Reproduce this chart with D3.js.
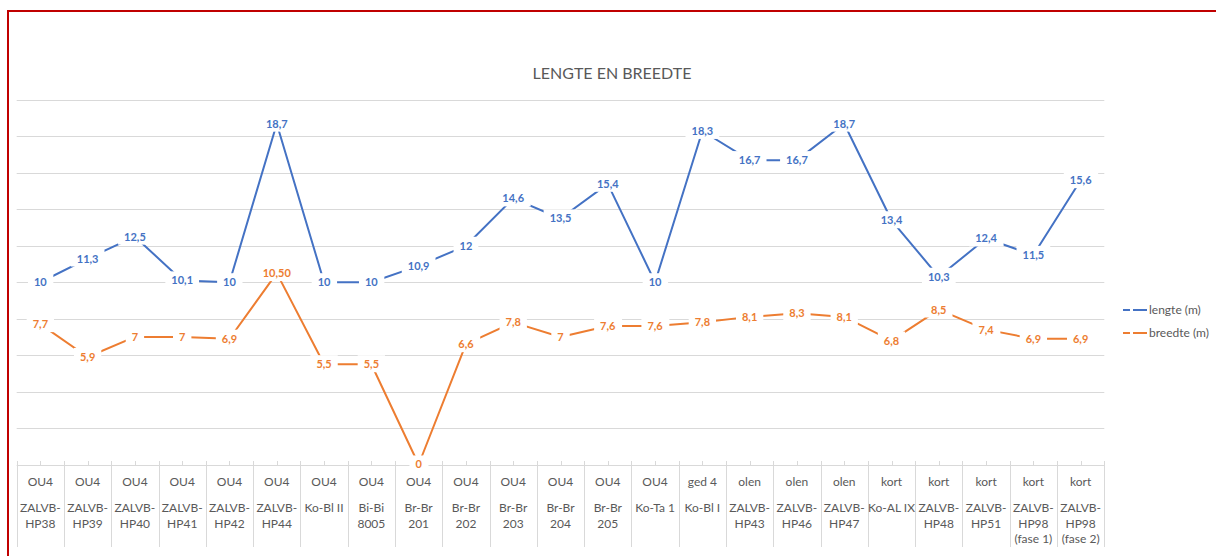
<!DOCTYPE html>
<html>
<head>
<meta charset="utf-8">
<script src="https://cdn.jsdelivr.net/npm/d3@7"></script>
<style>
  html, body { margin: 0; padding: 0; background: #fff; }
  svg { display: block; font-family: Lato, "Liberation Sans", sans-serif; }
</style>
</head>
<body>
<svg id="chart" width="1216" height="556"></svg>
<script>
// Group label (upper row) per category
const groups = ["OU4","OU4","OU4","OU4","OU4","OU4","OU4","OU4","OU4","OU4","OU4","OU4","OU4","OU4",
  "ged 4","olen","olen","olen","kort","kort","kort","kort","kort"];
// Feature names (lower row), with the wrap points as they appear under each column
const names = ["ZALVB-\nHP38","ZALVB-\nHP39","ZALVB-\nHP40","ZALVB-\nHP41","ZALVB-\nHP42","ZALVB-\nHP44",
  "Ko-Bl II","Bi-Bi\n8005","Br-Br\n201","Br-Br\n202","Br-Br\n203","Br-Br\n204","Br-Br\n205","Ko-Ta 1",
  "Ko-Bl I","ZALVB-\nHP43","ZALVB-\nHP46","ZALVB-\nHP47","Ko-AL IX","ZALVB-\nHP48","ZALVB-\nHP51",
  "ZALVB-\nHP98\n(fase 1)","ZALVB-\nHP98\n(fase 2)"];
// Length in metres
const lengte = [10, 11.3, 12.5, 10.1, 10, 18.7, 10, 10, 10.9, 12, 14.6, 13.5, 15.4, 10,
  18.3, 16.7, 16.7, 18.7, 13.4, 10.3, 12.4, 11.5, 15.6];
// Width in metres
const breedte = [7.7, 5.9, 7, 7, 6.9, 10.5, 5.5, 5.5, 0, 6.6, 7.8, 7, 7.6, 7.6,
  7.8, 8.1, 8.3, 8.1, 6.8, 8.5, 7.4, 6.9, 6.9];
// Number of decimals shown in the width labels (one value is shown with two)
const breedteDecimals = [null, null, null, null, null, 2, null, null, null, null, null, null, null, null,
  null, null, null, null, null, null, null, null, null];
const yTicks = [0, 2, 4, 6, 8, 10, 12, 14, 16, 18, 20];
const seriesNames = ["lengte (m)", "breedte (m)"];
const title = "LENGTE EN BREEDTE";

const svg = d3.select("#chart");
const blue = "#4472C4", orange = "#ED7D31", grid = "#d9d9d9", textCol = "#595959";

const plot = { left: 16.7, right: 1104.3, top: 100, bottom: 464.5 };

const x = d3.scaleBand().domain(d3.range(groups.length)).range([plot.left, plot.right]).padding(0);
const y = d3.scaleLinear().domain([0, 20]).range([plot.bottom, plot.top]);
const cx = i => x(i) + x.bandwidth() / 2;

// Horizontal gridlines
svg.append("g").selectAll("line").data(yTicks).join("line")
  .attr("x1", plot.left).attr("x2", plot.right)
  .attr("y1", d => Math.round(y(d)) + 0.5).attr("y2", d => Math.round(y(d)) + 0.5)
  .attr("stroke", grid).attr("stroke-width", 1);

// Category axis: dividers between columns and small ticks at column centres
const axisG = svg.append("g");
axisG.selectAll("line.div").data(d3.range(groups.length + 1)).join("line")
  .attr("class", "div")
  .attr("x1", i => Math.round(plot.left + i * x.bandwidth()) + 0.5)
  .attr("x2", i => Math.round(plot.left + i * x.bandwidth()) + 0.5)
  .attr("y1", 461).attr("y2", 547)
  .attr("stroke", grid);
axisG.selectAll("line.tick").data(d3.range(groups.length)).join("line")
  .attr("class", "tick")
  .attr("x1", i => Math.round(cx(i)) + 0.5).attr("x2", i => Math.round(cx(i)) + 0.5)
  .attr("y1", 461).attr("y2", 465)
  .attr("stroke", grid);

// Category labels
axisG.selectAll("text.grp").data(groups).join("text")
  .attr("class", "grp")
  .attr("x", (d, i) => cx(i)).attr("y", 486)
  .attr("text-anchor", "middle").attr("font-size", 12).attr("fill", textCol)
  .text(d => d);
const nameT = axisG.selectAll("text.nm").data(names).join("text")
  .attr("class", "nm")
  .attr("x", (d, i) => cx(i)).attr("y", 512)
  .attr("text-anchor", "middle").attr("font-size", 12).attr("fill", textCol);
nameT.each(function (d, i) {
  d3.select(this).selectAll("tspan").data(d.split("\n")).join("tspan")
    .attr("x", cx(i)).attr("dy", (t, k) => k === 0 ? 0 : 15.5)
    .text(t => t);
});

// Series lines
const line = d3.line().x((d, i) => cx(i)).y(d => y(d));
[[lengte, blue], [breedte, orange]].forEach(([vals, col]) => {
  svg.append("path").datum(vals)
    .attr("d", line).attr("fill", "none")
    .attr("stroke", col).attr("stroke-width", 2).attr("stroke-linejoin", "round");
});

// Data labels centred on the points, on a white background
const fmt = (v, dec) => {
  const s = dec == null ? d3.format("~f")(+v.toFixed(2)) : v.toFixed(dec);
  return s.replace(".", ",");
};
function labels(vals, col, decs) {
  const g = svg.append("g");
  vals.forEach((v, i) => {
    const lg = g.append("g").attr("transform", `translate(${cx(i)},${y(v)})`);
    const t = lg.append("text")
      .attr("text-anchor", "middle").attr("dy", "0.36em")
      .attr("font-size", 11).attr("font-weight", "bold").attr("fill", col)
      .text(fmt(v, decs ? decs[i] : null));
    const bb = t.node().getBBox();
    lg.insert("rect", "text")
      .attr("x", bb.x - 6).attr("y", bb.y - 2).attr("width", bb.width + 12).attr("height", bb.height + 4)
      .attr("fill", "#fff");
  });
}
labels(lengte, blue, null);
labels(breedte, orange, breedteDecimals);

// Title
svg.append("text").attr("x", 612).attr("y", 79)
  .attr("text-anchor", "middle").attr("font-size", 16).attr("fill", textCol)
  .text(title);

// Legend
const leg = svg.append("g");
[[seriesNames[0], blue, 310], [seriesNames[1], orange, 333]].forEach(([name, col, ly]) => {
  leg.append("path").attr("d", `M1123,${ly}H1130M1133,${ly}H1147`)
    .attr("stroke", col).attr("stroke-width", 2).attr("fill", "none");
  leg.append("text").attr("x", 1149).attr("y", ly).attr("dy", "0.35em")
    .attr("font-size", 12).attr("fill", textCol).text(name);
});

// Frame edges
svg.append("path").attr("d", "M8,556V11H1216")
  .attr("fill", "none").attr("stroke", "#c00000").attr("stroke-width", 2);
</script>
</body>
</html>
